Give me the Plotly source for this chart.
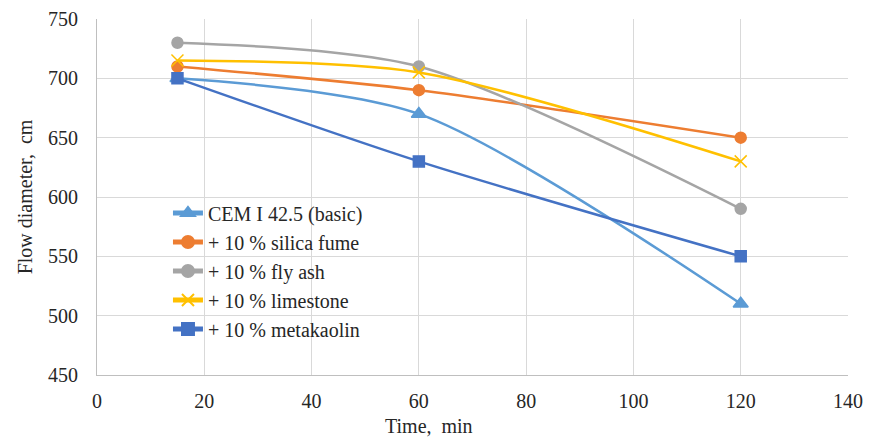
import plotly.graph_objects as go

time_min = [15, 60, 120]
cem_basic = [700, 670, 510]
silica_fume = [710, 690, 650]
fly_ash = [730, 710, 590]
limestone = [715, 705, 630]
metakaolin = [700, 630, 550]

series = [
    ("CEM I 42.5 (basic)", cem_basic, "#5B9BD5", "triangle-up", 13),
    ("+ 10 % silica fume", silica_fume, "#ED7D31", "circle", 11),
    ("+ 10 % fly ash", fly_ash, "#A5A5A5", "circle", 11),
    ("+ 10 % limestone", limestone, "#FFC000", "x-thin-open", 12),
    ("+ 10 % metakaolin", metakaolin, "#4472C4", "square", 11),
]

fig = go.Figure()
for name, vals, color, sym, size in series:
    fig.add_trace(go.Scatter(
        x=time_min, y=vals, name=name, mode="lines+markers",
        line=dict(color=color, width=2.5, shape="spline", smoothing=0.8),
        marker=dict(symbol=sym, size=size, color=color,
                    line=dict(color=color, width=1.5)),
    ))

font = "Liberation Serif"
fig.update_layout(
    width=882, height=438,
    margin=dict(l=89, r=42, t=11, b=71),
    paper_bgcolor="white", plot_bgcolor="white",
    font=dict(family=font, size=20, color="#262626"),
    legend=dict(x=0.0945, y=0.51, xanchor="left", yanchor="top",
                bgcolor="rgba(0,0,0,0)", font=dict(family=font, size=20),
                tracegroupgap=0, itemsizing="constant"),
    xaxis=dict(range=[0, 140], dtick=20, showgrid=True, gridcolor="#d9d9d9",
               showline=True, linecolor="#bfbfbf", zeroline=False,
               ticks="", ticklabelstandoff=8, automargin=False,
               tickfont=dict(family=font, size=20)),
    yaxis=dict(range=[450, 750], dtick=50, showgrid=True, gridcolor="#d9d9d9",
               showline=True, linecolor="#bfbfbf", zeroline=False,
               ticks="", ticklabelstandoff=14, automargin=False,
               tickfont=dict(family=font, size=20),
               title=dict(text="Flow diameter,\u00a0 cm", standoff=10,
                          font=dict(family=font, size=20))),
    annotations=[dict(text="Time,\u00a0 min", xref="paper", yref="paper",
                      x=0.442, y=-0.143, xanchor="center", yanchor="middle",
                      showarrow=False, font=dict(family=font, size=20))],
)

fig.write_html("out.html")
